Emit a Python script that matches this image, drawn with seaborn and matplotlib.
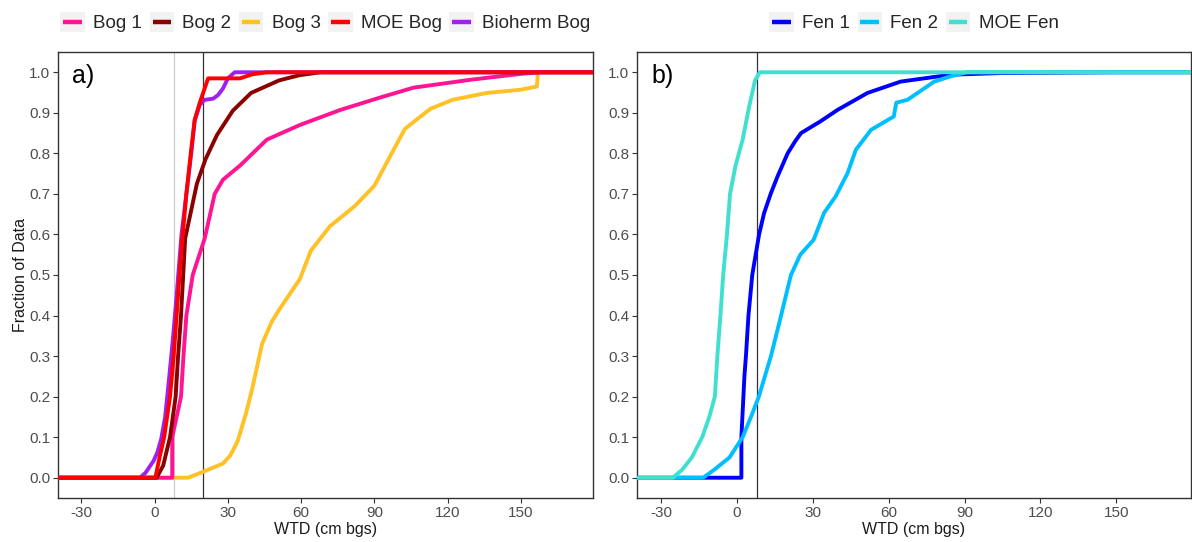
import numpy as np
import pandas as pd
import matplotlib
matplotlib.use("Agg")
import matplotlib.pyplot as plt
import seaborn as sns
from matplotlib.lines import Line2D
from matplotlib.patches import Rectangle
from matplotlib.legend_handler import HandlerBase

# ---------------- data ----------------
bog1_x = [-40, 7.2, 7.2, 10.8, 11.8, 13.0, 15.6, 20.5, 24.6, 28, 35, 46, 59.5, 76, 92, 106, 130, 150, 158, 180]
bog1_f = [0, 0, 0.10, 0.2, 0.3, 0.4, 0.5, 0.59, 0.70, 0.735, 0.77, 0.834, 0.87, 0.907, 0.937, 0.962, 0.982, 0.996, 1.0, 1.0]

bog2_x = [-40, 0.8, 3.5, 6.3, 8.6, 9.6, 10.8, 11.7, 12.5, 17.3, 20.8, 25.5, 32, 39.5, 51, 59.5, 68, 180]
bog2_f = [0, 0, 0.03, 0.1, 0.2, 0.3, 0.4, 0.5, 0.59, 0.725, 0.785, 0.845, 0.905, 0.949, 0.98, 0.993, 1.0, 1.0]

bog3_x = [-40, 13.7, 20, 24, 28, 31, 34, 37.4, 40, 44, 48, 51, 55, 59.5, 64, 71.8, 82, 90, 94, 98, 102.5, 106, 113, 122, 136, 150, 156.6, 157, 180]
bog3_f = [0, 0, 0.015, 0.025, 0.035, 0.055, 0.09, 0.158, 0.22, 0.33, 0.385, 0.414, 0.45, 0.49, 0.56, 0.62, 0.67, 0.72, 0.765, 0.81, 0.86, 0.877, 0.91, 0.932, 0.949, 0.957, 0.965, 1.0, 1.0]

moeb_x = [-40, 0.3, 2.0, 3.9, 6.3, 7.8, 9.0, 10.2, 11.3, 13.0, 14.8, 16.4, 18.5, 21.9, 35, 40, 46, 180]
moeb_f = [0, 0, 0.05, 0.1, 0.2, 0.3, 0.4, 0.5, 0.587, 0.7, 0.8, 0.883, 0.925, 0.985, 0.985, 0.995, 1.0, 1.0]

bioh_x = [-40, -6, -3.7, -0.4, 1.1, 2.7, 4.3, 6.0, 7.6, 9.0, 11.0, 13.0, 15.0, 16.4, 18.5, 20.5, 24, 26, 28, 30, 32.8, 180]
bioh_f = [0, 0, 0.0125, 0.042, 0.0625, 0.096, 0.15, 0.25, 0.35, 0.45, 0.6, 0.7, 0.8, 0.88, 0.92, 0.932, 0.935, 0.944, 0.96, 0.985, 1.0, 1.0]

fen1_x = [-40, 1.7, 1.7, 2.9, 3.5, 4.5, 6.0, 8.7, 10.7, 13.4, 16, 20, 23, 25.3, 33, 39.7, 51.6, 64.7, 84.5, 104, 150, 180]
fen1_f = [0, 0, 0.1, 0.25, 0.3, 0.4, 0.5, 0.6, 0.653, 0.702, 0.743, 0.80, 0.83, 0.85, 0.879, 0.907, 0.949, 0.977, 0.994, 0.998, 1.0, 1.0]

fen2_x = [-40, -13.4, -9, -3, 2.2, 5.5, 8.6, 13.4, 17.4, 21.3, 25, 30.3, 34.4, 39, 43.7, 47, 53, 62, 63, 67.4, 73.3, 78, 84.5, 91, 180]
fen2_f = [0, 0, 0.02, 0.05, 0.1, 0.15, 0.2, 0.3, 0.4, 0.5, 0.55, 0.587, 0.653, 0.694, 0.751, 0.809, 0.858, 0.891, 0.925, 0.932, 0.957, 0.977, 0.99, 1.0, 1.0]

moef_x = [-40, -25.4, -21.7, -17.9, -13.8, -11, -8.8, -7.8, -6.6, -5.5, -4.0, -2.8, -0.6, 2.2, 4.8, 7.1, 9.0, 180]
moef_f = [0, 0, 0.02, 0.05, 0.1, 0.15, 0.2, 0.3, 0.4, 0.5, 0.6, 0.7, 0.77, 0.834, 0.916, 0.98, 1.0, 1.0]

bog_names = ["Bog 1", "Bog 2", "Bog 3", "MOE Bog", "Bioherm Bog"]
bog_colors = ["#FF1493", "#8B0000", "#FFC125", "#FF0000", "#A020F0"]
fen_names = ["Fen 1", "Fen 2", "MOE Fen"]
fen_colors = ["#0000FF", "#00BFFF", "#40E0D0"]

x_ticks = [-30, 0, 30, 60, 90, 120, 150]
y_ticks = [0.0, 0.1, 0.2, 0.3, 0.4, 0.5, 0.6, 0.7, 0.8, 0.9, 1.0]

bog_series = {"Bog 1": (bog1_x, bog1_f), "Bog 2": (bog2_x, bog2_f), "Bog 3": (bog3_x, bog3_f),
              "MOE Bog": (moeb_x, moeb_f), "Bioherm Bog": (bioh_x, bioh_f)}
fen_series = {"Fen 1": (fen1_x, fen1_f), "Fen 2": (fen2_x, fen2_f), "MOE Fen": (moef_x, moef_f)}


def to_df(series):
    rows = []
    for name, (xs, fs) in series.items():
        for i, (xv, fv) in enumerate(zip(xs, fs)):
            rows.append((name, i, xv, fv))
    return pd.DataFrame(rows, columns=["site", "idx", "wtd", "frac"])


df_bog = to_df(bog_series)
df_fen = to_df(fen_series)

# ---------------- style ----------------
sns.set_style("white")
plt.rcParams["font.family"] = ["Liberation Sans", "DejaVu Sans"]

W, H = 1192, 542
fig = plt.figure(figsize=(W / 100, H / 100), dpi=100)

top_px, bot_px = 52, 498
axL = fig.add_axes([58 / W, 1 - bot_px / H, (593 - 58) / W, (bot_px - top_px) / H])
axR = fig.add_axes([637 / W, 1 - bot_px / H, (1191 - 637) / W, (bot_px - top_px) / H])


class KeyHandler(HandlerBase):
    def create_artists(self, legend, orig_handle, xdescent, ydescent, width, height, fontsize, trans):
        bg = Rectangle((-xdescent, -ydescent), width, height, facecolor="#F2F2F2",
                       edgecolor="none", transform=trans)
        yc = -ydescent + height / 2
        ln = Line2D([-xdescent + 0.12 * width, -xdescent + 0.88 * width], [yc, yc],
                    color=orig_handle.get_color(), lw=3.2, solid_capstyle="butt", transform=trans)
        return [bg, ln]


def style_axis(ax, label, show_ylabel):
    ax.set_xlim(-39.6, 179.6)
    ax.set_ylim(-0.05, 1.05)
    ax.set_xticks(x_ticks)
    ax.set_yticks(y_ticks)
    ax.set_xticklabels([str(t) for t in x_ticks])
    ax.set_yticklabels([f"{t:.1f}" for t in y_ticks])
    ax.tick_params(axis="both", bottom=True, left=True, direction="out", length=3.5,
                   width=0.8, color="#333333", labelcolor="#4D4D4D", labelsize=11, pad=2)
    for sp in ax.spines.values():
        sp.set_visible(True)
        sp.set_color("#333333")
        sp.set_linewidth(1.0)
    ax.set_xlabel("WTD (cm bgs)", fontsize=11.5, color="#1A1A1A", labelpad=1.5)
    if show_ylabel:
        ax.set_ylabel("Fraction of Data", fontsize=11.5, color="#1A1A1A", labelpad=1)
    else:
        ax.set_ylabel("")
    ax.text(-34, 0.99, label, fontsize=18, color="black", ha="left", va="center")
    ax.grid(False)


leg_kw = dict(handler_map={Line2D: KeyHandler()}, loc="center",
              bbox_to_anchor=(0.5, 1 + 30 / (bot_px - top_px)), frameon=False,
              fontsize=13.5, handlelength=1.3, handleheight=1.3, handletextpad=0.45,
              columnspacing=0.4, borderaxespad=0, borderpad=0)

# ---------------- left panel ----------------
axL.axvline(8, color="#C8C8C8", lw=0.8, zorder=1)
axL.axvline(20, color="#333333", lw=0.9, zorder=1)
bog_draw_order = ["Bog 3", "Bog 1", "Bog 2", "Bioherm Bog", "MOE Bog"]
sns.lineplot(data=df_bog, x="wtd", y="frac", hue="site", hue_order=bog_draw_order,
             palette=dict(zip(bog_names, bog_colors)), estimator=None, sort=False,
             lw=2.8, ax=axL, legend=False, zorder=3)
style_axis(axL, "a)", True)
hL = [Line2D([], [], color=c) for c in bog_colors]
axL.legend(hL, bog_names, ncol=5, **leg_kw)

# ---------------- right panel ----------------
axR.axvline(8, color="#333333", lw=0.9, zorder=1)
sns.lineplot(data=df_fen, x="wtd", y="frac", hue="site", hue_order=fen_names,
             palette=dict(zip(fen_names, fen_colors)), estimator=None, sort=False,
             lw=2.8, ax=axR, legend=False, zorder=3)
style_axis(axR, "b)", False)
hR = [Line2D([], [], color=c) for c in fen_colors]
axR.legend(hR, fen_names, ncol=3, **leg_kw)

fig.savefig("out.png", dpi=100)
